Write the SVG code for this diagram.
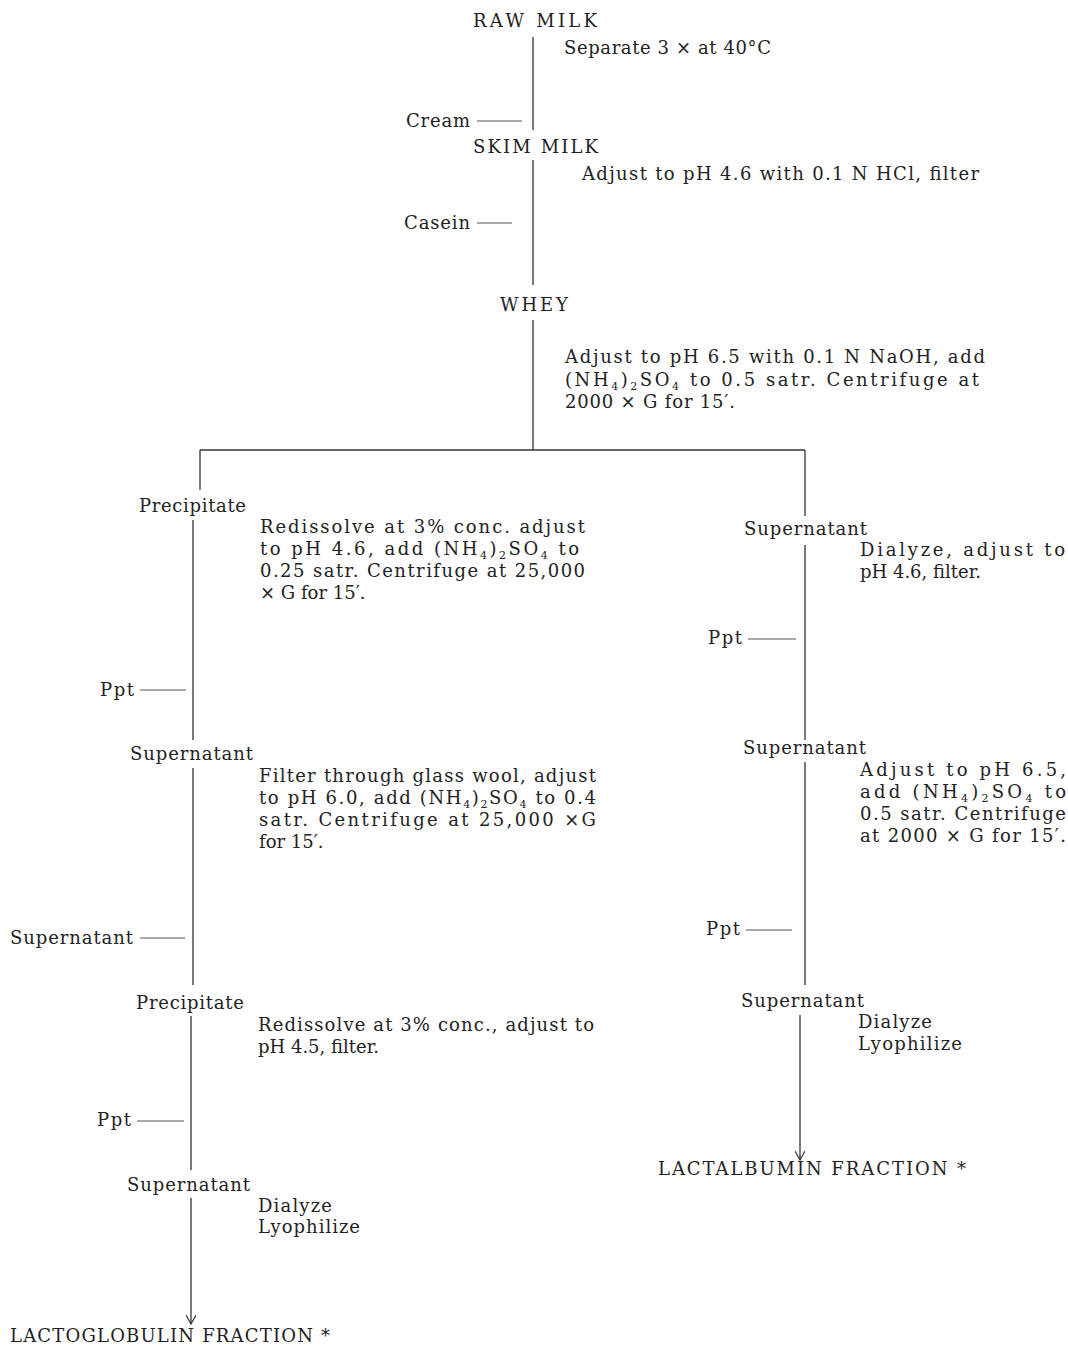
<svg xmlns="http://www.w3.org/2000/svg" width="1068" height="1345" viewBox="0 0 1068 1345">
<defs>
<style>
text{font-family:"DejaVu Serif","Liberation Serif",serif;font-size:18px;fill:#222}
.s{font-size:11px}
.ln{stroke:#333;stroke-width:1.3;fill:none}
.dash{stroke:#555;stroke-width:1.1;fill:none}
</style>
<marker id="arr" viewBox="0 0 10 10" refX="9" refY="5" markerWidth="10" markerHeight="10" markerUnits="userSpaceOnUse" orient="auto">
<path d="M0,0 L9,5 L0,10" fill="none" stroke="#333" stroke-width="1.2"/>
</marker>
</defs>
<rect width="1068" height="1345" fill="#fff"/>

<g id="connectors">
<line class="ln" x1="533" y1="37" x2="533" y2="130"/>
<line class="dash" x1="477" y1="121" x2="522" y2="121"/>
<line class="ln" x1="533" y1="160" x2="533" y2="285"/>
<line class="dash" x1="477" y1="223" x2="512" y2="223"/>
<line class="ln" x1="533" y1="320" x2="533" y2="450"/>
<line class="ln" x1="200" y1="450" x2="805" y2="450"/>
<line class="ln" x1="200" y1="450" x2="200" y2="490"/>
<line class="ln" x1="805" y1="450" x2="805" y2="516"/>
<line class="ln" x1="193" y1="520" x2="193" y2="740"/>
<line class="dash" x1="140" y1="690" x2="186" y2="690"/>
<line class="ln" x1="193" y1="768" x2="193" y2="985"/>
<line class="dash" x1="140" y1="938" x2="185" y2="938"/>
<line class="ln" x1="191" y1="1016" x2="191" y2="1170"/>
<line class="dash" x1="137" y1="1121" x2="184" y2="1121"/>
<line class="ln" x1="191" y1="1198" x2="191" y2="1324" marker-end="url(#arr)"/>
<line class="ln" x1="805" y1="545" x2="805" y2="740"/>
<line class="dash" x1="748" y1="639" x2="796" y2="639"/>
<line class="ln" x1="805" y1="762" x2="805" y2="985"/>
<line class="dash" x1="746" y1="930" x2="792" y2="930"/>
<line class="ln" x1="800" y1="1015" x2="800" y2="1160" marker-end="url(#arr)"/>
</g>

<g id="raw-milk"><text x="473" y="27" textLength="124">RAW MILK</text></g>
<g id="step-separate"><text x="564" y="54" textLength="207">Separate 3 × at 40°C</text></g>
<g id="cream"><text x="406" y="127" textLength="64">Cream</text></g>
<g id="skim-milk"><text x="473" y="153" textLength="125">SKIM MILK</text></g>
<g id="step-acid"><text x="582" y="180" textLength="397">Adjust to pH 4.6 with 0.1 N HCl, filter</text></g>
<g id="casein"><text x="404" y="229" textLength="66">Casein</text></g>
<g id="whey"><text x="500" y="311" textLength="68">WHEY</text></g>
<g id="step-whey">
<text x="565" y="363" textLength="420">Adjust to pH 6.5 with 0.1 N NaOH, add</text>
<text x="565" y="386" textLength="414">(NH<tspan class="s" dy="4">4</tspan><tspan dy="-4">)</tspan><tspan class="s" dy="4">2</tspan><tspan dy="-4">SO</tspan><tspan class="s" dy="4">4</tspan><tspan dy="-4"> to 0.5 satr. Centrifuge at</tspan></text>
<text x="565" y="408" textLength="170">2000 × G for 15′.</text>
</g>

<g id="precipitate-1"><text x="139" y="512" textLength="107">Precipitate</text></g>
<g id="step-redissolve-1">
<text x="260" y="533" textLength="325">Redissolve at 3% conc. adjust</text>
<text x="260" y="555" textLength="319">to pH 4.6, add (NH<tspan class="s" dy="4">4</tspan><tspan dy="-4">)</tspan><tspan class="s" dy="4">2</tspan><tspan dy="-4">SO</tspan><tspan class="s" dy="4">4</tspan><tspan dy="-4"> to</tspan></text>
<text x="260" y="577" textLength="325">0.25 satr. Centrifuge at 25,000</text>
<text x="260" y="599">× G for 15′.</text>
</g>
<g id="ppt-1"><text x="100" y="696" textLength="34">Ppt</text></g>
<g id="supernatant-l1"><text x="130" y="760" textLength="123">Supernatant</text></g>
<g id="step-filter">
<text x="259" y="782" textLength="337">Filter through glass wool, adjust</text>
<text x="259" y="804" textLength="337">to pH 6.0, add (NH<tspan class="s" dy="4">4</tspan><tspan dy="-4">)</tspan><tspan class="s" dy="4">2</tspan><tspan dy="-4">SO</tspan><tspan class="s" dy="4">4</tspan><tspan dy="-4"> to 0.4</tspan></text>
<text x="259" y="826" textLength="337">satr. Centrifuge at 25,000 ×G</text>
<text x="259" y="848">for 15′.</text>
</g>
<g id="supernatant-discard"><text x="10" y="944" textLength="123">Supernatant</text></g>
<g id="precipitate-2"><text x="136" y="1009" textLength="108">Precipitate</text></g>
<g id="step-redissolve-2">
<text x="258" y="1031" textLength="336">Redissolve at 3% conc., adjust to</text>
<text x="258" y="1053">pH 4.5, filter.</text>
</g>
<g id="ppt-2"><text x="97" y="1126" textLength="34">Ppt</text></g>
<g id="supernatant-l2"><text x="127" y="1191" textLength="123">Supernatant</text></g>
<g id="step-dialyze-l">
<text x="258" y="1212" textLength="74">Dialyze</text>
<text x="258" y="1233" textLength="102">Lyophilize</text>
</g>
<g id="lactoglobulin"><text x="10" y="1342" textLength="320">LACTOGLOBULIN FRACTION *</text></g>

<g id="supernatant-r1"><text x="744" y="535" textLength="123">Supernatant</text></g>
<g id="step-dialyze-r1">
<text x="860" y="556" textLength="205">Dialyze, adjust to</text>
<text x="860" y="578">pH 4.6, filter.</text>
</g>
<g id="ppt-r1"><text x="708" y="644" textLength="34">Ppt</text></g>
<g id="supernatant-r2"><text x="743" y="754" textLength="123">Supernatant</text></g>
<g id="step-adjust-r">
<text x="860" y="776" textLength="206">Adjust to pH 6.5,</text>
<text x="860" y="798" textLength="206">add (NH<tspan class="s" dy="4">4</tspan><tspan dy="-4">)</tspan><tspan class="s" dy="4">2</tspan><tspan dy="-4">SO</tspan><tspan class="s" dy="4">4</tspan><tspan dy="-4"> to</tspan></text>
<text x="860" y="820" textLength="206">0.5 satr. Centrifuge</text>
<text x="860" y="842" textLength="206">at 2000 × G for 15′.</text>
</g>
<g id="ppt-r2"><text x="706" y="935" textLength="34">Ppt</text></g>
<g id="supernatant-r3"><text x="741" y="1007" textLength="123">Supernatant</text></g>
<g id="step-dialyze-r2">
<text x="858" y="1028" textLength="74">Dialyze</text>
<text x="858" y="1050" textLength="104">Lyophilize</text>
</g>
<g id="lactalbumin"><text x="658" y="1175" textLength="308">LACTALBUMIN FRACTION *</text></g>
</svg>
